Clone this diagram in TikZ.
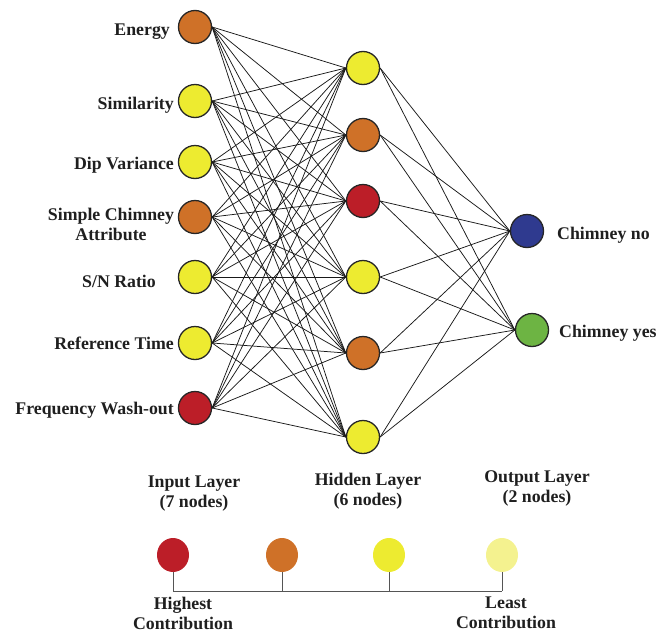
\documentclass[tikz,border=0pt]{standalone}
\usepackage{fontspec}
\setmainfont{Liberation Serif}
\usetikzlibrary{shapes.geometric}
\definecolor{cRed}{HTML}{BC1E28}
\definecolor{cOrange}{HTML}{CF7128}
\definecolor{cYellow}{HTML}{EDEB30}
\definecolor{cPale}{HTML}{F4F28F}
\definecolor{cBlue}{HTML}{2F3A8F}
\definecolor{cGreen}{HTML}{6DB443}
\definecolor{cStem}{HTML}{555555}
\begin{document}
\begin{tikzpicture}[x=1pt,y=-1pt,
  neuron/.style={circle,draw=black!85,line width=1.3pt,minimum size=33pt,inner sep=0pt},
  lbl/.style={font=\fontsize{17.8}{20}\selectfont\bfseries,text=black!88,inner sep=0pt},
  link/.style={draw=black!90,line width=0.75pt},
  legdot/.style={ellipse,minimum width=32pt,minimum height=34pt,inner sep=0pt},
  stem/.style={draw=cStem,line width=1pt}]
\useasboundingbox (0,0) rectangle (672,632);

% input layer
\node[neuron,fill=cOrange] (i1) at (195,27) {};
\node[neuron,fill=cYellow] (i2) at (195,101) {};
\node[neuron,fill=cYellow] (i3) at (195,162) {};
\node[neuron,fill=cOrange] (i4) at (195,217) {};
\node[neuron,fill=cYellow] (i5) at (195,277) {};
\node[neuron,fill=cYellow] (i6) at (195,343) {};
\node[neuron,fill=cRed]    (i7) at (195,408) {};

% hidden layer
\node[neuron,fill=cYellow] (h1) at (363,68) {};
\node[neuron,fill=cOrange] (h2) at (363,135) {};
\node[neuron,fill=cRed]    (h3) at (363,201) {};
\node[neuron,fill=cYellow] (h4) at (363,277) {};
\node[neuron,fill=cOrange] (h5) at (363,353) {};
\node[neuron,fill=cYellow] (h6) at (363,437) {};

% output layer
\node[neuron,fill=cBlue]  (o1) at (527,231) {};
\node[neuron,fill=cGreen] (o2) at (532,330) {};

% connections
\begin{scope}[on background layer/.style={}]
\foreach \i in {1,...,7}{
  \foreach \h in {1,...,6}{
    \draw[link] (i\i.east) -- (h\h.west);
  }
}
\foreach \h in {1,...,6}{
  \foreach \o in {1,2}{
    \draw[link] (h\h.east) -- (o\o.west);
  }
}
\end{scope}

% input labels
\node[lbl,anchor=base east] (t1) at (170,35) {Energy};
\node[lbl,anchor=base east] (t2) at (174,109) {Similarity};
\node[lbl,anchor=base east] (t3) at (174,169) {Dip Variance};
\node[lbl,align=center] (t4) at (111,224) {Simple Chimney\\Attribute};
\node[lbl,anchor=base] (t5) at (119,287) {S/N Ratio};
\node[lbl,anchor=base east] (t6) at (174,349) {Reference Time};
\node[lbl,anchor=base east] (t7) at (174,414) {Frequency Wash-out};

% output labels
\node[lbl,anchor=base west] (u1) at (557,239) {Chimney no};
\node[lbl,anchor=base west] (u2) at (559,337) {Chimney yes};

% layer captions
\node[lbl,align=center] (c1) at (194,494) {Input Layer\\(7 nodes)};
\node[lbl,align=center] (c2) at (368,491) {Hidden Layer\\(6 nodes)};
\node[lbl,align=center] (c3) at (537,488) {Output Layer\\(2 nodes)};

% legend
\node[legdot,fill=cRed]    (l1) at (173,555) {};
\node[legdot,fill=cOrange] (l2) at (282,555) {};
\node[legdot,fill=cYellow] (l3) at (389,555) {};
\node[legdot,fill=cPale]   (l4) at (502,555) {};
\coordinate (b1) at (173,591);
\coordinate (b2) at (282,591);
\coordinate (b3) at (389,591);
\coordinate (b4) at (502,591);
\draw[stem] (l1.south) -- (b1);
\draw[stem] (l2.south) -- (b2);
\draw[stem] (l3.south) -- (b3);
\draw[stem] (l4.south) -- (b4);
\draw[stem] (b1) -- (b4);
\node[lbl,align=center] (g1) at (183,613) {Highest\\Contribution};
\node[lbl,align=center] (g2) at (506,613) {Least\\Contribution};
\end{tikzpicture}
\end{document}
